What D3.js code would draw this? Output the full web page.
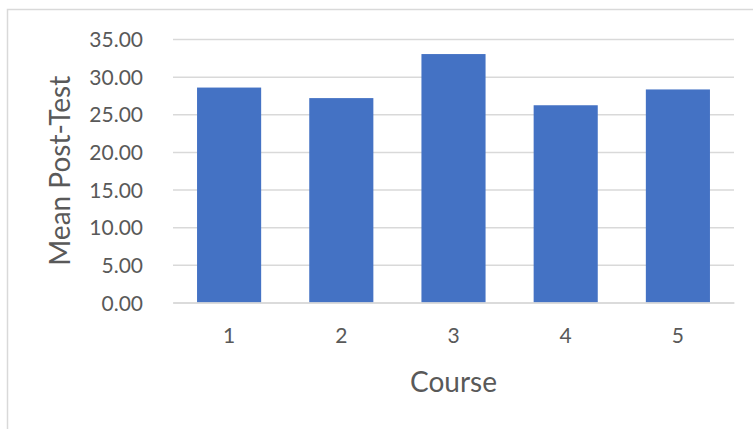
<!DOCTYPE html>
<html>
<head>
<meta charset="utf-8">
<script src="https://cdn.jsdelivr.net/npm/d3@7"></script>
<style>
  body { margin: 0; background: #fff; }
  svg text { font-family: Lato, "Open Sans", sans-serif; fill: #595959; }
</style>
</head>
<body>
<svg id="chart" width="753" height="429"></svg>
<script>
// data
const courses = ["1", "2", "3", "4", "5"];
const meanPostTest = [28.55, 27.15, 33.0, 26.2, 28.3];
const yTicks = [0, 5, 10, 15, 20, 25, 30, 35];

const width = 753, height = 429;
const margin = {top: 39, right: 19, bottom: 126.5, left: 173};
const barColor = "#4472c4";
const gridColor = "#d9d9d9";

const svg = d3.select("#chart");

// outer chart border (runs off the right and bottom edge)
svg.append("rect")
    .attr("x", 7.5).attr("y", 9.5)
    .attr("width", 800).attr("height", 500)
    .attr("fill", "none")
    .attr("stroke", gridColor)
    .attr("stroke-width", 1.5);

const x = d3.scaleBand()
    .domain(courses)
    .range([margin.left, width - margin.right])
    .paddingInner(0.4286)
    .paddingOuter(0.2143);

const y = d3.scaleLinear()
    .domain([0, 35])
    .range([height - margin.bottom, margin.top]);

// gridlines + y tick labels
const yAxis = svg.append("g")
    .attr("transform", `translate(${margin.left},0)`)
    .call(d3.axisLeft(y)
        .tickValues(yTicks)
        .tickFormat(d3.format(".2f"))
        .tickSize(-(width - margin.left - margin.right))
        .tickPadding(30));
yAxis.select(".domain").remove();
yAxis.selectAll(".tick line")
    .attr("stroke", gridColor)
    .attr("stroke-width", 1.5);
yAxis.selectAll(".tick text")
    .style("font-size", "21px")
    .attr("dy", "0.36em");

// bars
svg.append("g")
    .selectAll("rect")
    .data(meanPostTest)
    .enter()
    .append("rect")
    .attr("x", (d, i) => x(courses[i]))
    .attr("y", d => y(d))
    .attr("width", x.bandwidth())
    .attr("height", d => y(0) - y(d))
    .attr("fill", barColor);

// x axis
const xAxis = svg.append("g")
    .attr("transform", `translate(0,${y(0)})`)
    .call(d3.axisBottom(x).tickSize(0).tickPadding(26));
xAxis.select(".domain")
    .attr("stroke", gridColor)
    .attr("stroke-width", 1.5);
xAxis.selectAll(".tick text")
    .style("font-size", "21px");

// axis titles
svg.append("text")
    .attr("x", (margin.left + width - margin.right) / 2)
    .attr("y", 392)
    .attr("text-anchor", "middle")
    .style("font-size", "28px")
    .text("Course");

svg.append("text")
    .attr("transform", `translate(70,${(y(0) + y(35)) / 2}) rotate(-90)`)
    .attr("text-anchor", "middle")
    .style("font-size", "28px")
    .text("Mean Post-Test");
</script>
</body>
</html>
